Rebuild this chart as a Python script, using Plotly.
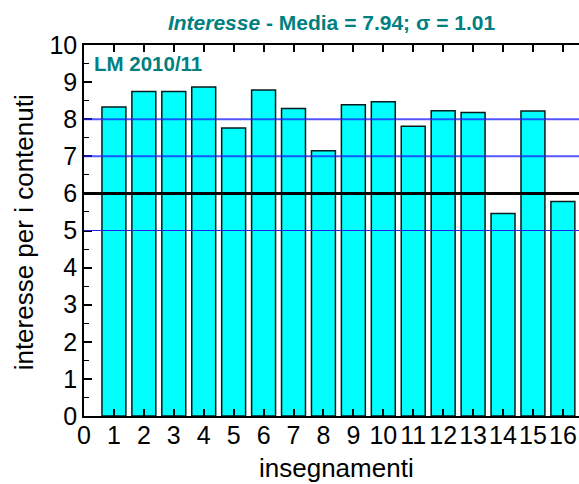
import plotly.graph_objects as go

# ---- data ----
corsi = list(range(1, 17))
interesse = [8.33, 8.75, 8.75, 8.87, 7.76, 8.79, 8.29, 7.15, 8.39, 8.47, 7.81, 8.23, 8.18, 5.46, 8.22, 5.78]
x_ticks = list(range(0, 17))
y_ticks = list(range(0, 11))
blue_lines = [5, 7, 8]
soglia = 6

title_txt = "<i>Interesse</i> - Media = 7.94; σ = 1.01"
label_txt = "LM 2010/11"
x_title = "insegnamenti"
y_title = "interesse per i contenuti"

W, H = 579, 484
ml, mr, mt, mb = 84, 0, 45, 68
pw, ph = W - ml - mr, H - mt - mb
unit_px = 29.93

teal = "#008080"
font_fam = "Arial, Liberation Sans, sans-serif"

fig = go.Figure()
fig.add_trace(go.Bar(
    x=corsi, y=interesse, width=0.8,
    marker=dict(color="#00FFFF", line=dict(color="#0b1a1a", width=1.5)),
    showlegend=False, hoverinfo="skip",
))

shapes = []
for v in blue_lines:
    shapes.append(dict(type="line", xref="paper", yref="y", x0=0, x1=1, y0=v, y1=v,
                       line=dict(color="rgba(30,30,255,0.75)" if v != 5 else "#2020e8",
                                 width=2 if v != 5 else 1.2),
                       layer="above"))
shapes.append(dict(type="line", xref="paper", yref="y", x0=0, x1=1, y0=soglia, y1=soglia,
                   line=dict(color="black", width=3), layer="above"))

annotations = [
    dict(text=label_txt, xref="paper", yref="paper", x=8 / pw, y=1 - 18.5 / ph,
         xanchor="left", yanchor="middle", showarrow=False,
         font=dict(family=font_fam, size=20.5, color=teal, weight="bold")),
    dict(text=x_title, xref="paper", yref="paper", x=(336 - ml) / pw, y=-(468 - (mt + ph)) / ph,
         xanchor="center", yanchor="middle", showarrow=False,
         font=dict(family=font_fam, size=26, color="black")),
    dict(text=y_title, xref="paper", yref="paper", x=-(ml - 24) / pw, y=0.495,
         xanchor="center", yanchor="middle", textangle=-90, showarrow=False,
         font=dict(family=font_fam, size=26, color="black")),
]

fig.update_layout(
    width=W, height=H,
    margin=dict(l=ml, r=mr, t=mt, b=mb, autoexpand=False),
    paper_bgcolor="white", plot_bgcolor="white",
    title=dict(text=title_txt, x=(ml + pw / 2) / W, xanchor="center",
               y=1 - 23 / H, yanchor="middle", yref="container",
               font=dict(family=font_fam, size=21, color=teal, weight="bold")),
    shapes=shapes, annotations=annotations,
    bargap=0.2,
)
fig.update_xaxes(
    range=[0, pw / unit_px], tickvals=x_ticks, ticktext=[str(t) for t in x_ticks],
    tickangle=0, automargin=False, ticklabeloverflow="allow", ticklabelstandoff=-4,
    ticks="inside", ticklen=7, tickwidth=1.5, tickcolor="black",
    showline=True, linecolor="black", linewidth=1.5, mirror="ticks",
    showgrid=False, zeroline=False,
    tickfont=dict(family=font_fam, size=25, color="black"),
)
fig.update_yaxes(
    range=[0, 10], tickvals=y_ticks, automargin=False,
    ticks="inside", ticklen=8, tickwidth=1.5, tickcolor="black",
    minor=dict(dtick=0.5, ticks="inside", ticklen=5, tickwidth=1.2, tickcolor="black", showgrid=False),
    showline=True, linecolor="black", linewidth=1.5, mirror=False,
    showgrid=False, zeroline=False,
    tickfont=dict(family=font_fam, size=25, color="black"),
)

fig.write_html("out.html", config={"displayModeBar": False},
               post_script="document.body.style.margin='0';document.body.style.overflow='hidden';")
